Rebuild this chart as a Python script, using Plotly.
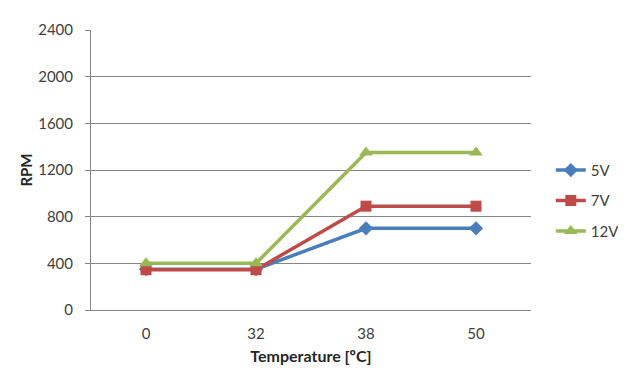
import plotly.graph_objects as go

categories = ["0", "32", "38", "50"]
rpm_5v = [350, 350, 700, 700]
rpm_7v = [345, 345, 890, 890]
rpm_12v = [400, 400, 1350, 1350]
y_ticks = [0, 400, 800, 1200, 1600, 2000, 2400]

font_family = "Lato, 'Open Sans', sans-serif"

fig = go.Figure()
fig.add_trace(go.Scatter(x=categories, y=rpm_5v, name="5V", mode="lines+markers", legendgroup="a",
                         line=dict(color="#4A7EBB", width=3.5),
                         marker=dict(symbol="diamond", size=11, color="#4A7EBB")))
fig.add_trace(go.Scatter(x=categories, y=rpm_7v, name="7V", mode="lines+markers", legendgroup="b",
                         line=dict(color="#BE4B48", width=3.5),
                         marker=dict(symbol="square", size=11, color="#BE4B48")))
fig.add_trace(go.Scatter(x=categories, y=rpm_12v, name="12V", mode="lines+markers", legendgroup="c",
                         line=dict(color="#98B954", width=3.5),
                         marker=dict(symbol="triangle-up", size=12, color="#98B954")))

fig.update_layout(
    width=618, height=376,
    margin=dict(l=83, r=95, t=22, b=74, autoexpand=False),
    paper_bgcolor="white", plot_bgcolor="white",
    font=dict(family=font_family, size=15, color="#404040"),
    xaxis=dict(type="category", range=[-0.5, 3.5], showgrid=False,
               showline=True, linecolor="#868686", linewidth=1,
               ticks="", ticklabelstandoff=10,
               tickfont=dict(size=15, color="#404040"),
               title=dict(text="<b>Temperature [ºC]</b>", font=dict(size=16, color="#262626"), standoff=9)),
    yaxis=dict(range=[0, 2400], tickvals=y_ticks, showgrid=True, gridcolor="#868686", gridwidth=1,
               showline=True, linecolor="#868686", linewidth=1,
               ticks="outside", ticklen=5, tickcolor="#868686", zeroline=False,
               ticklabelstandoff=9, tickfont=dict(size=15, color="#404040"),
               title=dict(text="<b>RPM</b>", font=dict(size=15, color="#262626"), standoff=1)),
    legend=dict(x=1.045, y=0.39, xanchor="left", yanchor="middle",
                font=dict(size=15, color="#404040"), tracegroupgap=8,
                itemwidth=30, bgcolor="rgba(0,0,0,0)"),
)

fig.write_html("out.html")
